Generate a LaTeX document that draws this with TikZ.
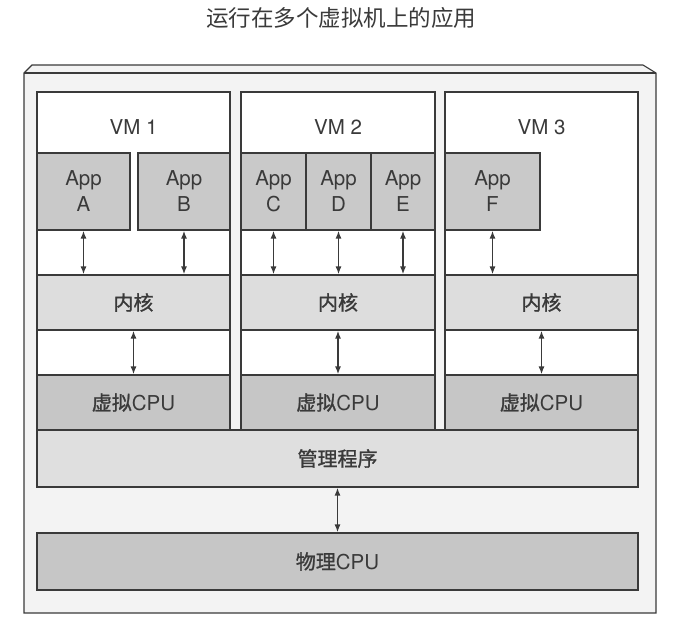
\documentclass[tikz,border=0pt]{standalone}
\usepackage{fontspec}
\setmainfont{TeX Gyre Heros}
\newfontfamily\cjk[FakeBold=1.2]{Noto Sans CJK SC}
\newfontfamily\cjktitle{Noto Sans CJK SC}
\usetikzlibrary{arrows.meta}
\definecolor{ink}{HTML}{3A3A3A}
\definecolor{appgray}{HTML}{C9C9C9}
\definecolor{kgray}{HTML}{DDDDDD}
\definecolor{cgray}{HTML}{C6C6C6}
\definecolor{hgray}{HTML}{DFDFDF}
\definecolor{framebg}{HTML}{F3F3F3}
\tikzset{
  box/.style={draw=ink, line width=1.2pt, inner sep=0pt, text=ink, font=\fontsize{20.5}{26}\selectfont},
  cjkbox/.style={box, font=\cjk\fontsize{20}{24}\selectfont},
  dbl/.style={draw=ink, line width=1.4pt, {Latex[length=8pt,width=6pt]}-{Latex[length=8pt,width=6pt]}},
  lbl/.style={text=ink, font=\fontsize{20.5}{26}\selectfont, inner sep=0pt}
}
\begin{document}
\begin{tikzpicture}[x=1pt,y=-1pt]
\useasboundingbox (0,0) rectangle (675,622);
% title
\node[lbl, font=\cjktitle\fontsize{22.5}{26}\selectfont] (title) at (341,18) {运行在多个虚拟机上的应用};
% outer frame
\draw[draw=ink, line width=1.1pt, fill=framebg] (24,73) -- (32,65) -- (643,65) -- (656,73) -- (656,613) -- (24,613) -- cycle;
\draw[draw=ink, line width=1.1pt] (24,73) -- (656,73);
% VM boxes
\node[box, fill=white, minimum width=193pt, minimum height=338pt] (vm1) at (133.5,261) {};
\node[box, fill=white, minimum width=194pt, minimum height=338pt] (vm2) at (338,261) {};
\node[box, fill=white, minimum width=193pt, minimum height=338pt] (vm3) at (541.5,261) {};
\node[lbl] (vml1) at (133.5,127) {VM 1};
\node[lbl] (vml2) at (338,127) {VM 2};
\node[lbl] (vml3) at (541.5,127) {VM 3};
% apps
\node[box, fill=appgray, minimum width=93pt, minimum height=77pt, align=center] (A) at (83.5,191.5) {App\\A};
\node[box, fill=appgray, minimum width=92pt, minimum height=77pt, align=center] (B) at (184,191.5) {App\\B};
\node[box, fill=appgray, minimum width=65pt, minimum height=77pt, align=center] (C) at (273.5,191.5) {App\\C};
\node[box, fill=appgray, minimum width=65pt, minimum height=77pt, align=center] (D) at (338.5,191.5) {App\\D};
\node[box, fill=appgray, minimum width=64pt, minimum height=77pt, align=center] (E) at (403,191.5) {App\\E};
\node[box, fill=appgray, minimum width=95pt, minimum height=77pt, align=center] (F) at (492.5,191.5) {App\\F};
% kernels
\node[cjkbox, fill=kgray, minimum width=193pt, minimum height=55pt] (k1) at (133.5,302.5) {内核};
\node[cjkbox, fill=kgray, minimum width=194pt, minimum height=55pt] (k2) at (338,302.5) {内核};
\node[cjkbox, fill=kgray, minimum width=193pt, minimum height=55pt] (k3) at (541.5,302.5) {内核};
% virtual CPUs
\node[box, fill=cgray, minimum width=193pt, minimum height=55pt] (c1) at (133.5,402.5) {{\cjk\fontsize{20}{24}\selectfont 虚拟}CPU};
\node[box, fill=cgray, minimum width=194pt, minimum height=55pt] (c2) at (338,402.5) {{\cjk\fontsize{20}{24}\selectfont 虚拟}CPU};
\node[box, fill=cgray, minimum width=193pt, minimum height=55pt] (c3) at (541.5,402.5) {{\cjk\fontsize{20}{24}\selectfont 虚拟}CPU};
% hypervisor and physical CPU
\node[cjkbox, fill=hgray, minimum width=601pt, minimum height=57pt] (hv) at (337.5,458.5) {管理程序};
\node[box, fill=cgray, minimum width=601pt, minimum height=57pt] (pc) at (337.5,561.5) {{\cjk\fontsize{20}{24}\selectfont 物理}CPU};
% arrows app -> kernel
\draw[dbl] (A.south) -- (A.south |- k1.north);
\draw[dbl] (B.south) -- (B.south |- k1.north);
\draw[dbl] (C.south) -- (C.south |- k2.north);
\draw[dbl] (D.south) -- (D.south |- k2.north);
\draw[dbl] (E.south) -- (E.south |- k2.north);
\draw[dbl] (F.south) -- (F.south |- k3.north);
% kernel -> vcpu
\draw[dbl] (k1.south) -- (c1.north);
\draw[dbl] (k2.south) -- (c2.north);
\draw[dbl] (k3.south) -- (c3.north);
% hypervisor -> physical
\draw[dbl] (hv.south) -- (pc.north);
\end{tikzpicture}
\end{document}
